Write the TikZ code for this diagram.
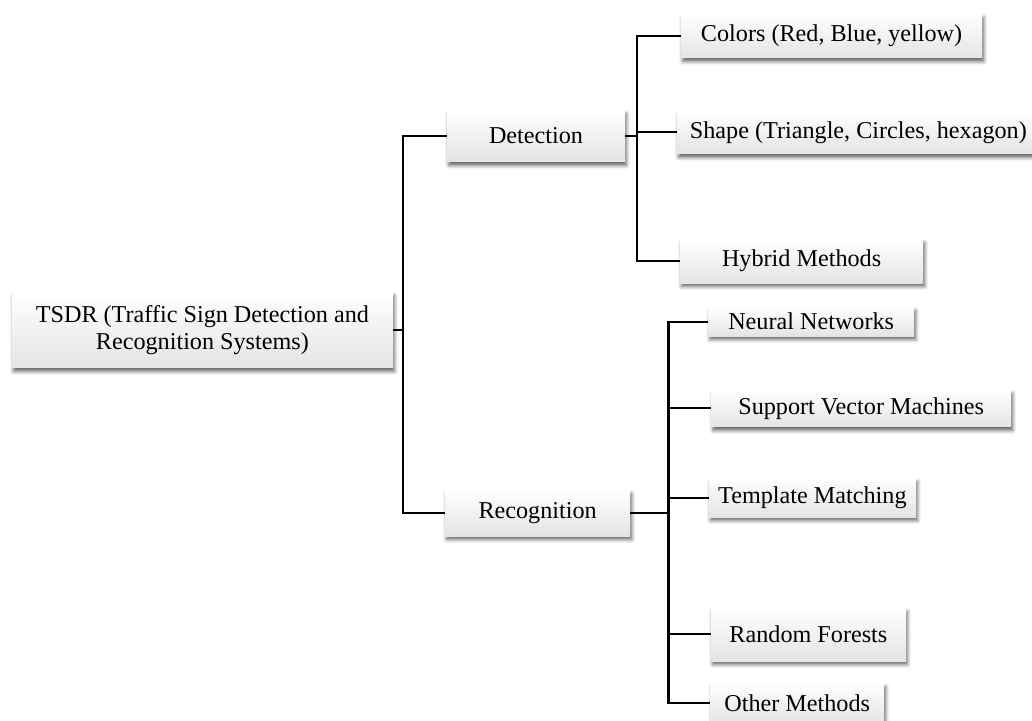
\documentclass[tikz,border=0pt]{standalone}
\usepackage{fontspec}
\setmainfont{Liberation Serif}
\usetikzlibrary{positioning,calc,shadows.blur}
\definecolor{ink}{HTML}{000000}
\definecolor{paper}{HTML}{FFFFFF}
\definecolor{haze}{HTML}{E4E4E4}

\begin{document}
\begin{tikzpicture}[
  box/.style={top color=paper,bottom color=haze,draw=none,inner sep=0pt,align=center,
    font=\fontsize{17.2}{19.5}\selectfont,
    blur shadow={shadow xshift=1.2pt,shadow yshift=-2.5pt,shadow blur radius=2.5pt,shadow opacity=60}},
  link/.style={draw=ink,line width=1.5pt}]
  \useasboundingbox (0,0) rectangle (25.8,-18.025);
  \node[box,minimum width=9.53cm,minimum height=1.9cm] (tsdr) at (5.06,-8.25) {TSDR (Traffic Sign Detection and\\Recognition Systems)};
  \node[box,minimum width=4.45cm,minimum height=1.3cm] (detect) at (13.4,-3.4) {Detection};
  \node[box,minimum width=4.63cm,minimum height=1.15cm] (recog) at (13.44,-12.83) {Recognition};
  \node[box,minimum width=7.53cm,minimum height=1.1cm] (colors) at (20.79,-0.9) {Colors (Red, Blue, yellow)};
  \node[box,minimum width=9.08cm,minimum height=1.08cm] (shape) at (21.46,-3.31) {Shape (Triangle, Circles, hexagon)};
  \node[box,minimum width=6.08cm,minimum height=1.1cm] (hybrid) at (20.04,-6.53) {Hybrid Methods};
  \node[box,minimum width=5.15cm,minimum height=.73cm] (neural) at (20.28,-8.04) {Neural Networks};
  \node[box,minimum width=7.5cm,minimum height=.93cm] (svm) at (21.53,-10.21) {Support Vector Machines};
  \node[box,minimum width=5.18cm,minimum height=.98cm] (templ) at (20.31,-12.44) {Template Matching};
  \node[box,minimum width=4.88cm,minimum height=1.33cm] (forest) at (20.21,-15.86) {Random Forests};
  \node[box,minimum width=4.35cm,minimum height=1.0cm] (other) at (19.93,-17.58) {Other Methods};
  \coordinate (trunk) at ($(tsdr.east)+(.25,0)$);
  \coordinate (dtrunk) at ($(detect.east)+(.3,0)$);
  \coordinate (rtrunk) at ($(recog.east)+(.95,0)$);
  \draw[link] (tsdr.east)--(trunk);
  \draw[link] (trunk)|-(detect.west);
  \draw[link] (trunk)|-(recog.west);
  \draw[link] (detect.east)--(dtrunk);
  \draw[link] (dtrunk)|-(colors.west);
  \draw[link] (dtrunk)|-(shape.west);
  \draw[link] (dtrunk)|-(hybrid.west);
  \draw[link] (recog.east)--(rtrunk);
  \draw[link] (rtrunk)|-(neural.west);
  \draw[link] (rtrunk)|-(svm.west);
  \draw[link] (rtrunk)|-(templ.west);
  \draw[link] (rtrunk)|-(forest.west);
  \draw[link] (rtrunk)|-(other.west);
\end{tikzpicture}
\end{document}
